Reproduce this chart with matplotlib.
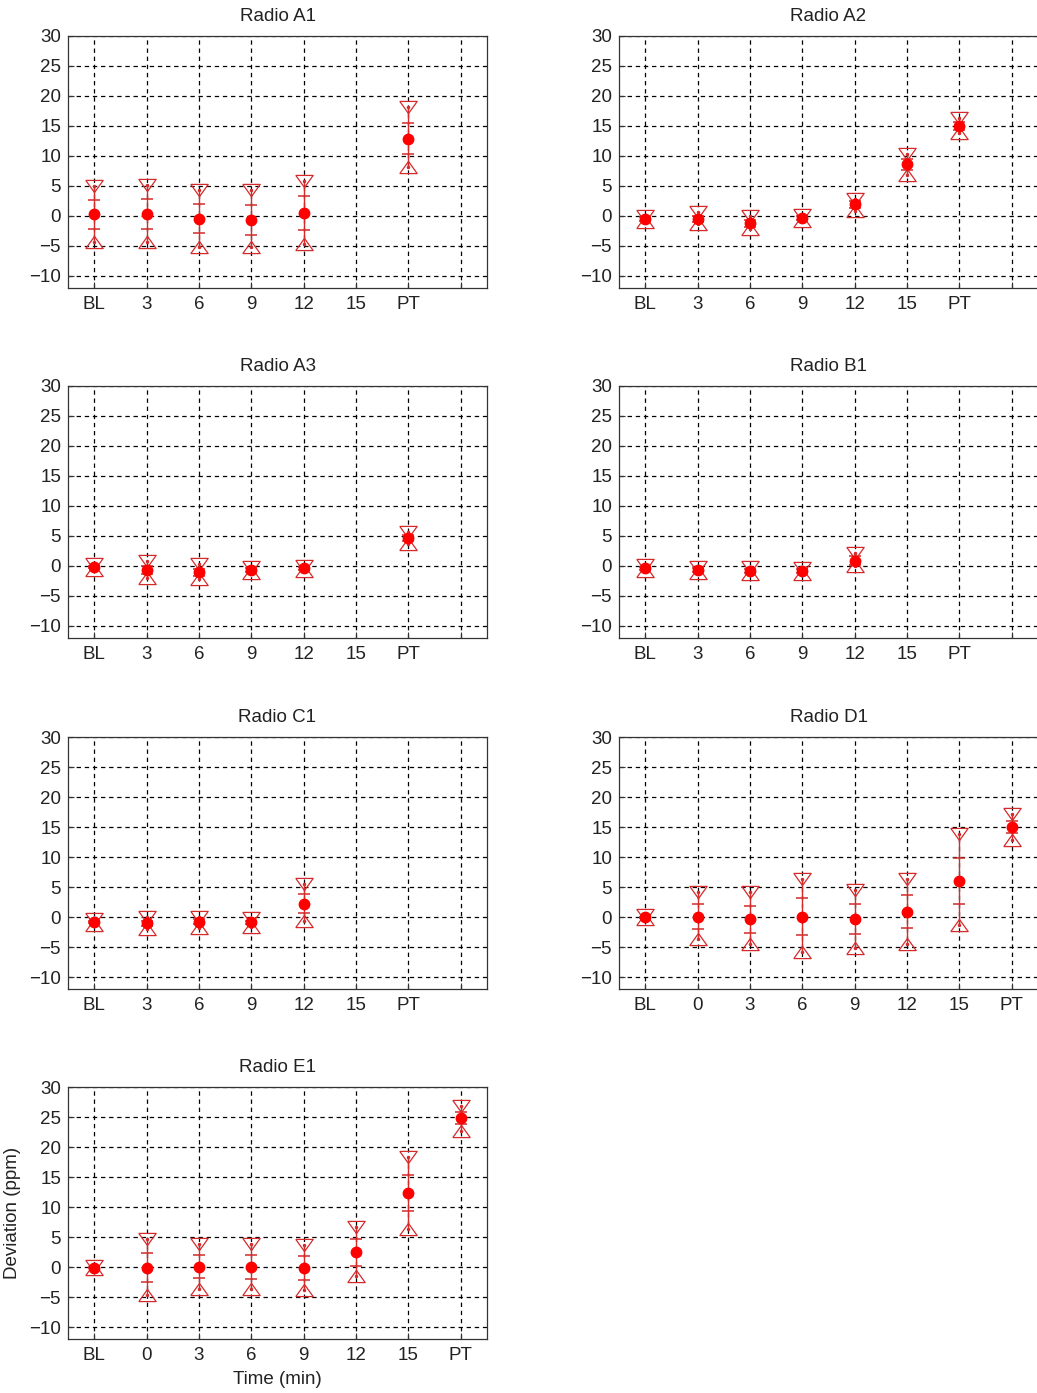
import numpy as np
import matplotlib
matplotlib.use("Agg")
import matplotlib.pyplot as plt

nan = np.nan

labels_a = ["BL", "3", "6", "9", "12", "15", "PT", ""]
labels_b = ["BL", "0", "3", "6", "9", "12", "15", "PT"]

# Radio A1
a1_mean = [0.3, 0.3, -0.45, -0.65, 0.55, nan, 12.9]
a1_sd = [2.4, 2.5, 2.45, 2.45, 2.8, nan, 2.6]
a1_min = [-4.3, -4.3, -5.2, -5.2, -4.6, nan, 8.1]
a1_max = [5.0, 5.1, 4.3, 4.3, 5.8, nan, 18.1]

# Radio A2
a2_mean = [-0.5, -0.5, -1.2, -0.35, 1.95, 8.6, 15.0]
a2_sd = [0.3, 0.5, 0.6, 0.3, 0.6, 0.9, 0.7]
a2_min = [-1.0, -1.4, -2.1, -0.8, 0.9, 6.9, 13.8]
a2_max = [0.0, 0.7, 0.0, 0.1, 2.9, 10.3, 16.3]

# Radio A3
a3_mean = [-0.2, -0.65, -1.05, -0.65, -0.4, nan, 4.6]
a3_sd = [0.2, 0.6, 0.6, 0.3, 0.2, nan, 0.5]
a3_min = [-0.7, -2.0, -2.1, -1.2, -0.8, nan, 3.7]
a3_max = [0.3, 0.9, 0.4, -0.1, 0.0, nan, 5.6]

# Radio B1
b1_mean = [-0.4, -0.65, -0.85, -0.85, 0.9]
b1_sd = [0.2, 0.3, 0.3, 0.3, 0.7]
b1_min = [-0.9, -1.2, -1.4, -1.4, -0.05]
b1_max = [0.2, -0.1, -0.2, -0.3, 2.2]

# Radio C1
c1_mean = [-0.8, -1.05, -0.8, -0.9, 2.2]
c1_sd = [0.2, 0.4, 0.4, 0.3, 1.6]
c1_min = [-1.3, -2.0, -1.8, -1.6, -0.6]
c1_max = [-0.3, 0.0, 0.05, -0.2, 5.5]

# Radio D1
d1_mean = [-0.05, 0.05, -0.35, 0.05, -0.35, 0.9, 6.0, 14.95]
d1_sd = [0.1, 2.1, 2.25, 3.1, 2.55, 2.8, 3.8, 1.0]
d1_min = [-0.4, -3.7, -4.45, -5.9, -5.1, -4.5, -1.3, 12.8]
d1_max = [0.3, 4.1, 4.2, 6.3, 4.5, 6.3, 13.8, 17.1]

# Radio E1
e1_mean = [-0.1, -0.1, 0.05, 0.05, -0.1, 2.45, 12.3, 24.9]
e1_sd = [0.1, 2.4, 1.9, 2.0, 2.0, 2.2, 3.0, 1.0]
e1_min = [-0.4, -4.6, -3.7, -3.6, -3.8, -1.55, 6.4, 22.7]
e1_max = [0.2, 4.7, 3.8, 3.9, 3.6, 6.7, 18.3, 26.9]

RED = "#ff0000"
LINE_RED = "#d42a2a"
TRI_DOWN = [(-1, 0.7), (1, 0.7), (0, -0.7), (-1, 0.7)]
TRI_UP = [(-1, -0.7), (1, -0.7), (0, 0.7), (-1, -0.7)]

plt.rcParams["font.family"] = ["Liberation Sans", "DejaVu Sans"]
plt.rcParams["font.size"] = 13.5


def draw_panel(ax, title, labels, mean, sd, vmin, vmax):
    mean = np.array(mean, dtype=float)
    sd = np.array(sd, dtype=float)
    vmin = np.array(vmin, dtype=float)
    vmax = np.array(vmax, dtype=float)
    x = np.arange(1, len(mean) + 1)

    for xi, lo, hi in zip(x, vmin, vmax):
        if np.isnan(lo):
            continue
        ax.plot([xi, xi], [lo, hi], color=LINE_RED, lw=1.0, zorder=3)

    ax.plot(x, mean + sd, ls="none", marker="_", ms=8, mew=1.1, color=LINE_RED, zorder=4)
    ax.plot(x, mean - sd, ls="none", marker="_", ms=8, mew=1.1, color=LINE_RED, zorder=4)
    ax.plot(x, vmax, ls="none", marker=TRI_DOWN, ms=12.5, mew=0.9,
            mfc="none", mec=LINE_RED, zorder=4)
    ax.plot(x, vmin, ls="none", marker=TRI_UP, ms=12.5, mew=0.9,
            mfc="none", mec=LINE_RED, zorder=4)
    ax.plot(x, vmax, ls="none", marker=".", ms=3, color=LINE_RED, zorder=4)
    ax.plot(x, vmin, ls="none", marker=".", ms=3, color=LINE_RED, zorder=4)
    ax.plot(x, mean, ls="none", marker="o", ms=7.5, color=RED, mec=RED, zorder=5)

    ax.set_xlim(0.5, 8.5)
    ax.set_ylim(-12, 30)
    ax.set_xticks(np.arange(1, 9))
    ax.set_xticklabels(labels)
    ax.set_yticks(np.arange(-10, 31, 5))
    ax.tick_params(direction="in", length=4, width=0.8, colors="#333333",
                   labelcolor="#222222", pad=5)
    ax.tick_params(axis="x", pad=6)
    ax.grid(True, color="black", ls=(0, (3.5, 3)), lw=0.9)
    for sp in ax.spines.values():
        sp.set_color("#333333")
        sp.set_linewidth(0.9)
    ax.set_title(title, fontsize=13.5, pad=11, color="#222222")


fig = plt.figure(figsize=(10.37, 13.93), dpi=100)

W = 419 / 1037
H = 252 / 1393
lefts = [68 / 1037, 619 / 1037]
bottoms = [1 - 288 / 1393, 1 - 638 / 1393, 1 - 989 / 1393, 1 - 1339 / 1393]

panels = [
    ("Radio A1", labels_a, a1_mean, a1_sd, a1_min, a1_max),
    ("Radio A2", labels_a, a2_mean, a2_sd, a2_min, a2_max),
    ("Radio A3", labels_a, a3_mean, a3_sd, a3_min, a3_max),
    ("Radio B1", labels_a, b1_mean, b1_sd, b1_min, b1_max),
    ("Radio C1", labels_a, c1_mean, c1_sd, c1_min, c1_max),
    ("Radio D1", labels_b, d1_mean, d1_sd, d1_min, d1_max),
    ("Radio E1", labels_b, e1_mean, e1_sd, e1_min, e1_max),
]

for i, (title, labels, m, s, lo, hi) in enumerate(panels):
    ax = fig.add_axes([lefts[i % 2], bottoms[i // 2], W, H])
    draw_panel(ax, title, labels, m, s, lo, hi)
    if title == "Radio E1":
        ax.set_xlabel("Time (min)", color="#222222", labelpad=5)
        ax.set_ylabel("Deviation (ppm)", color="#222222", labelpad=6)

fig.savefig("out.png", dpi=100)
